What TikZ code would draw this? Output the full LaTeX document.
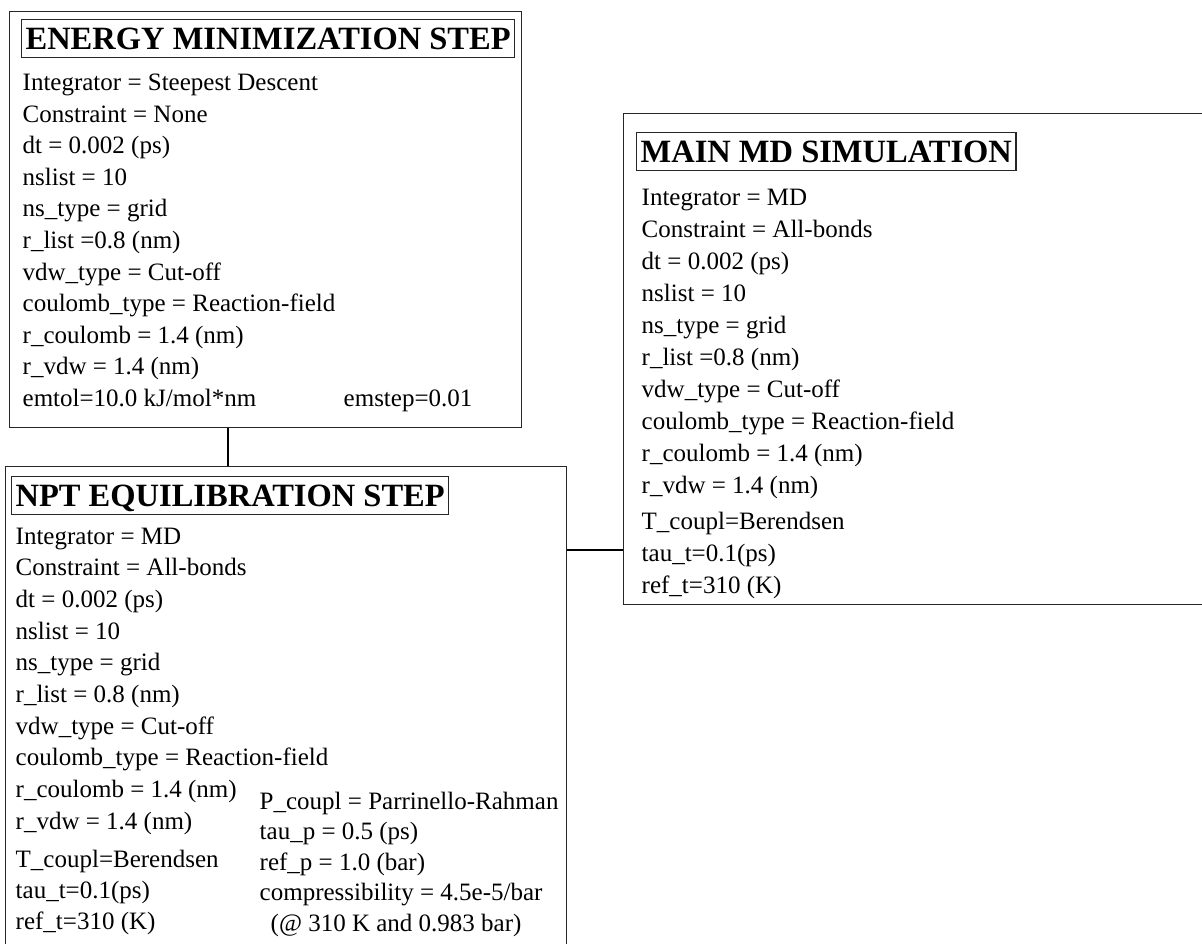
\documentclass[tikz,border=0pt]{standalone}
\usepackage{fontspec}
\setmainfont{Liberation Serif}
\begin{document}
\begin{tikzpicture}[x=1pt, y=-1pt, line width=1.4pt,
  box/.style = {draw=black!85, anchor=north west, inner sep=0pt},
  head/.style = {draw=black!85, line width=1.2pt, anchor=north west, font=\fontsize{32.5}{36}\selectfont\bfseries, inner xsep=4pt, inner ysep=8.5pt, text height=21pt, text depth=0pt},
  txt/.style = {anchor=base west, inner sep=0pt, font=\fontsize{25}{30}\selectfont}]
  \useasboundingbox (0,0) rectangle (1202,944);
  \clip (0,0) rectangle (1202,944);
  \node[box, minimum width=512pt, minimum height=416pt] (emin) at (9,11) {};
  \node[box, minimum width=561pt, minimum height=490pt] (npt) at (5,466) {};
  \node[box, minimum width=600pt, minimum height=491pt] (md) at (623,113) {};
  \node[head] (eminhead) at (21,19) {ENERGY MINIMIZATION STEP};
  \node[head] (npthead) at (11,476) {NPT EQUILIBRATION STEP};
  \node[head] (mdhead) at (636,132) {MAIN MD SIMULATION};
  \foreach \t [count=\i from 0] in {Integrator = Steepest Descent, Constraint = None, dt = 0.002 (ps), nslist = 10, ns\_type = grid, r\_list =0.8 (nm), vdw\_type = Cut-off, coulomb\_type = Reaction-field, r\_coulomb = 1.4 (nm), r\_vdw = 1.4 (nm), emtol=10.0 kJ/mol*nm}
    \node[txt] (e\i) at (22,{91+31.5*\i}) {\t};
  \node[txt] (emstep) at (343,406) {emstep=0.01};
  \foreach \t [count=\i from 0] in {Integrator = MD, Constraint = All-bonds, dt = 0.002 (ps), nslist = 10, ns\_type = grid, r\_list = 0.8 (nm), vdw\_type = Cut-off, coulomb\_type = Reaction-field, r\_coulomb = 1.4 (nm), r\_vdw = 1.4 (nm)}
    \node[txt] (n\i) at (15,{544+31.7*\i}) {\t};
  \foreach \t [count=\i from 0] in {T\_coupl=Berendsen, tau\_t=0.1(ps), ref\_t=310 (K)}
    \node[txt] (nt\i) at (15,{867+31*\i}) {\t};
  \foreach \t [count=\i from 0] in {P\_coupl = Parrinello-Rahman, tau\_p = 0.5 (ps), ref\_p = 1.0 (bar), compressibility = 4.5e-5/bar}
    \node[txt] (np\i) at (259,{809+30.5*\i}) {\t};
  \node[txt] (np4) at (270,931) {(@ 310 K and 0.983 bar)};
  \foreach \t [count=\i from 0] in {Integrator = MD, Constraint = All-bonds, dt = 0.002 (ps), nslist = 10, ns\_type = grid, r\_list =0.8 (nm), vdw\_type = Cut-off, coulomb\_type = Reaction-field, r\_coulomb = 1.4 (nm), r\_vdw = 1.4 (nm)}
    \node[txt] (m\i) at (641,{206+31.9*\i}) {\t};
  \foreach \t [count=\i from 0] in {T\_coupl=Berendsen, tau\_t=0.1(ps), ref\_t=310 (K)}
    \node[txt] (mt\i) at (641,{529+32*\i}) {\t};
  \coordinate (c1) at (228,440);
  \coordinate (c2) at (590,550);
  \draw (emin.south -| c1) -- (npt.north -| c1);
  \draw (npt.east |- c2) -- (md.west |- c2);
\end{tikzpicture}
\end{document}
